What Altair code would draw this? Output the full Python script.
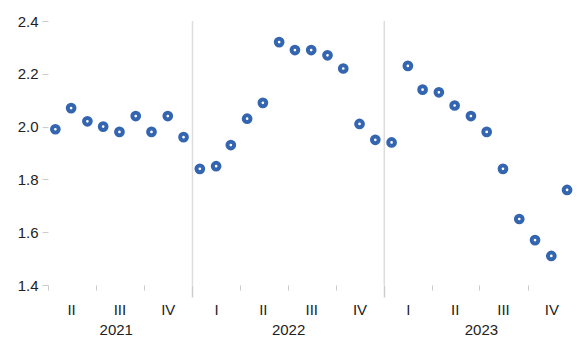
import altair as alt
import pandas as pd

BLUE = "#3465b0"
FONT = "Liberation Sans"

# monthly observations (mid-month), Apr 2021 - Dec 2023
months_2021 = ["2021-04-15", "2021-05-15", "2021-06-15", "2021-07-15", "2021-08-15",
               "2021-09-15", "2021-10-15", "2021-11-15", "2021-12-15"]
values_2021 = [1.99, 2.07, 2.02, 2.00, 1.98, 2.04, 1.98, 2.04, 1.96]

months_2022 = ["2022-01-15", "2022-02-15", "2022-03-15", "2022-04-15", "2022-05-15", "2022-06-15",
               "2022-07-15", "2022-08-15", "2022-09-15", "2022-10-15", "2022-11-15", "2022-12-15"]
values_2022 = [1.84, 1.85, 1.93, 2.03, 2.09, 2.32, 2.29, 2.29, 2.27, 2.22, 2.01, 1.95]

months_2023 = ["2023-01-15", "2023-02-15", "2023-03-15", "2023-04-15", "2023-05-15", "2023-06-15",
               "2023-07-15", "2023-08-15", "2023-09-15", "2023-10-15", "2023-11-15", "2023-12-15"]
values_2023 = [1.94, 2.23, 2.14, 2.13, 2.08, 2.04, 1.98, 1.84, 1.65, 1.57, 1.51, 1.76]

# axis furniture
domain_dates = ["2021-04-01", "2024-01-01"]
quarter_starts = ["2021-04-01", "2021-07-01", "2021-10-01",
                  "2022-04-01", "2022-07-01", "2022-10-01",
                  "2023-04-01", "2023-07-01", "2023-10-01"]
year_starts = ["2022-01-01", "2023-01-01", "2024-01-01"]
year_rules = ["2022-01-01", "2023-01-01"]
quarter_mids = ["2021-05-15", "2021-08-15", "2021-11-15",
                "2022-02-15", "2022-05-15", "2022-08-15", "2022-11-15",
                "2023-02-15", "2023-05-15", "2023-08-15", "2023-11-15"]
year_label_pos = ["2021-08-08", "2022-07-02", "2023-07-04"]
y_ticks = [1.4, 1.6, 1.8, 2.0, 2.2, 2.4]
y_domain = [1.4, 2.4]


def ms(s):
    return int(pd.Timestamp(s, tz="UTC").timestamp() * 1000)


df = pd.DataFrame({
    "date": months_2021 + months_2022 + months_2023,
    "value": values_2021 + values_2022 + values_2023,
})

xs = alt.Scale(domain=[ms(d) for d in domain_dates], nice=False)
ys = alt.Scale(domain=y_domain, nice=False, zero=False)
y_axis = alt.Axis(values=y_ticks, format=".1f", tickSize=6, tickColor="#cccccc",
                  labelPadding=4, domain=False, grid=False, title=None,
                  labelFontSize=15, labelColor="#222222", labelFont=FONT)

points = alt.Chart(df).mark_point(
    filled=False, strokeWidth=4, size=45, color=BLUE, opacity=1
).encode(
    x=alt.X("date:T", scale=xs,
            axis=alt.Axis(values=[ms(d) for d in quarter_starts], labels=False, orient="bottom",
                          tickSize=5, tickColor="#cccccc", domain=False, grid=False,
                          title=None)),
    y=alt.Y("value:Q", scale=ys, axis=y_axis),
)

rdf = pd.DataFrame({"date": year_rules, "lo": [y_domain[0]] * 2, "hi": [y_domain[1]] * 2})
rules = alt.Chart(rdf).mark_rule(color="#dddddd", strokeWidth=1.5).encode(
    x=alt.X("date:T", scale=xs,
            axis=alt.Axis(values=[ms(d) for d in year_starts], labels=False, orient="bottom",
                          tickSize=12, tickColor="#cccccc", tickWidth=1.5,
                          domain=False, grid=False, title=None)),
    y=alt.Y("lo:Q", scale=ys, axis=y_axis),
    y2="hi:Q",
)

qdf = pd.DataFrame({"date": quarter_mids})
qlabels = alt.Chart(qdf).mark_point(opacity=0).encode(
    x=alt.X("date:T", scale=xs,
            axis=alt.Axis(values=[ms(d) for d in quarter_mids], orient="bottom",
                          labelExpr="['I','II','III','IV'][floor(utcmonth(datum.value)/3)]",
                          ticks=False, domain=False, grid=False, title=None,
                          labelPadding=17, labelFontSize=15, labelColor="#222222",
                          labelFont=FONT, labelFlush=False, labelOverlap=False)),
)

ydf = pd.DataFrame({"date": year_label_pos})
ylabels = alt.Chart(ydf).mark_point(opacity=0).encode(
    x=alt.X("date:T", scale=xs,
            axis=alt.Axis(values=[ms(d) for d in year_label_pos], orient="bottom",
                          labelExpr="utcFormat(datum.value, '%Y')",
                          ticks=False, domain=False, grid=False, title=None,
                          labelPadding=37, labelFontSize=15, labelColor="#222222",
                          labelFont=FONT, labelFlush=False, labelOverlap=False)),
)

chart = alt.layer(rules, points, qlabels, ylabels).resolve_axis(
    x="independent"
).resolve_scale(x="shared").properties(
    width=528, height=264,
    autosize=alt.AutoSizeParams(type="none"),
    padding={"left": 40, "top": 13, "right": -3, "bottom": 51},
).configure_view(stroke=None)

chart.save("out.html", embed_options={"renderer": "svg", "actions": False})
